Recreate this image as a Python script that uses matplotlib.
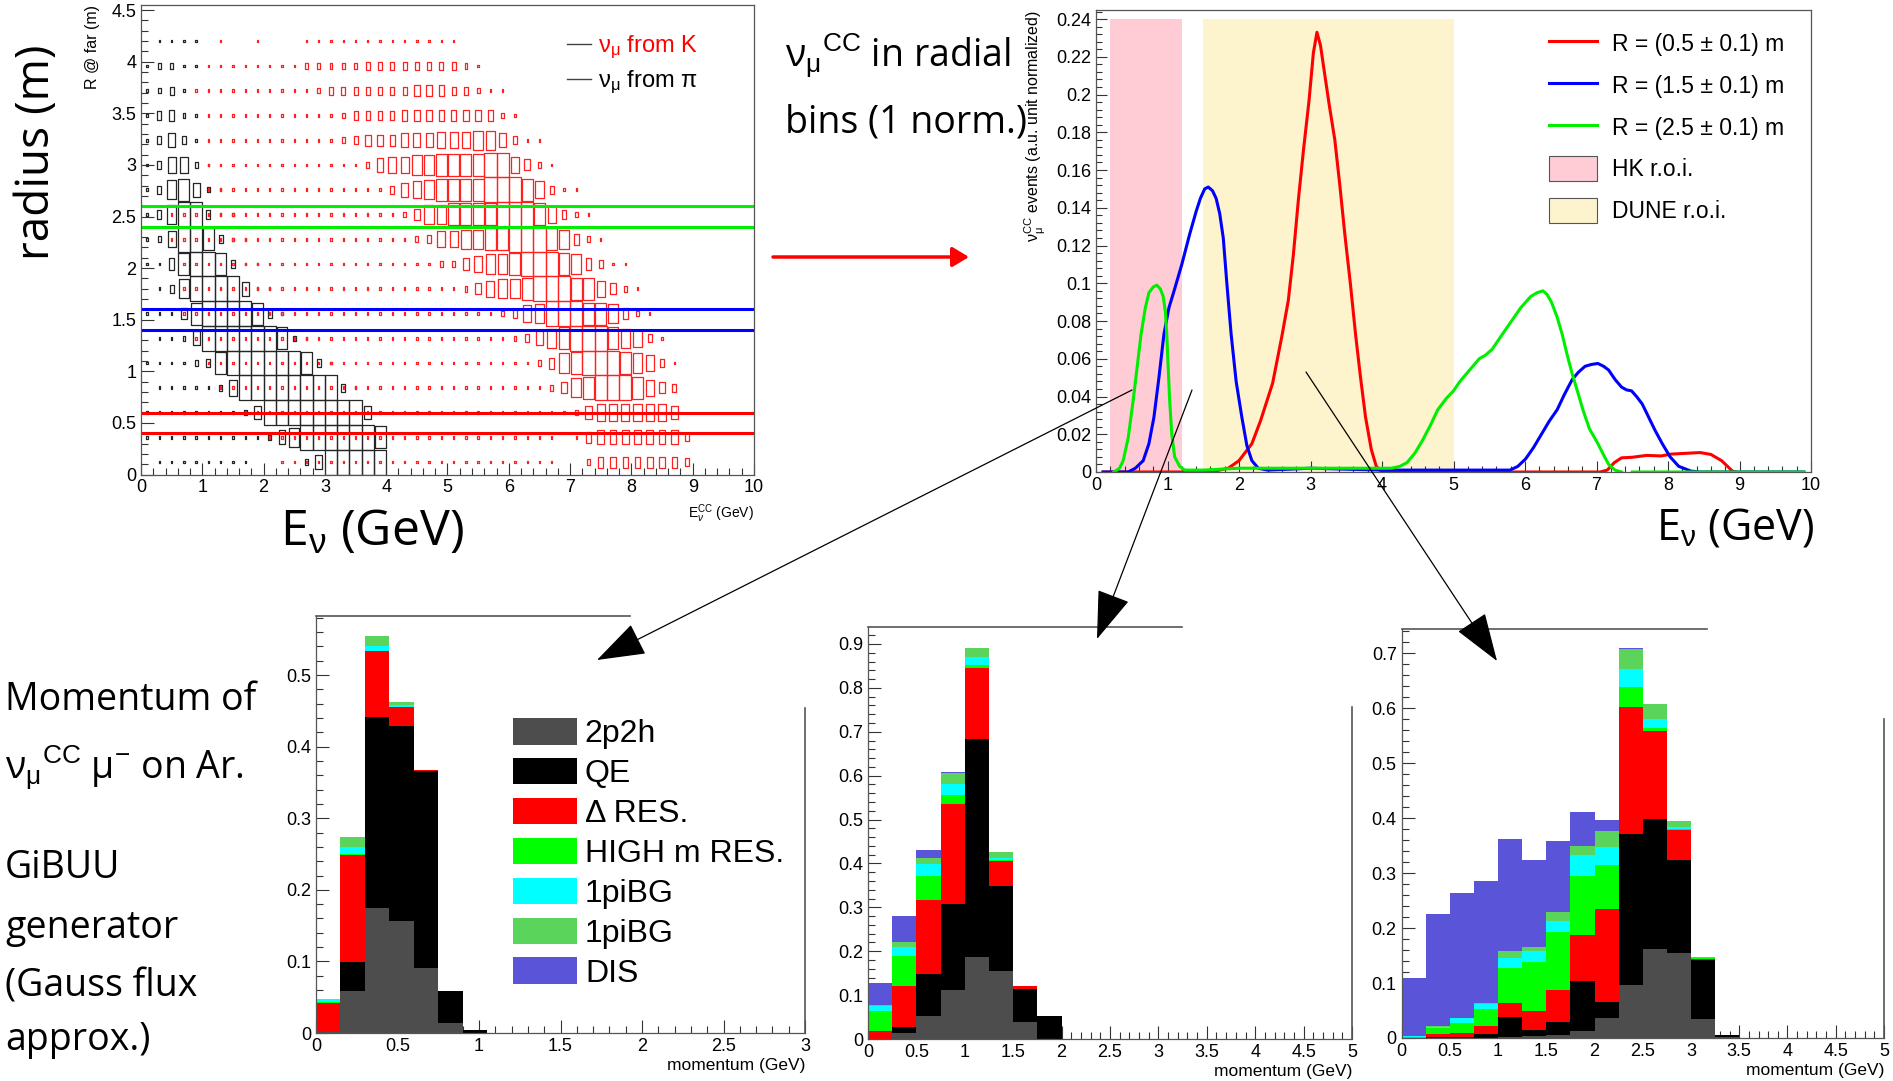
import numpy as np
import matplotlib
matplotlib.use("Agg")
import matplotlib.pyplot as plt
from matplotlib.patches import Rectangle, Patch, FancyArrowPatch
from matplotlib.collections import PatchCollection
from matplotlib.lines import Line2D
from matplotlib.ticker import MultipleLocator, FuncFormatter

plt.rcParams['font.family'] = ['Liberation Sans', 'DejaVu Sans']
plt.rcParams['mathtext.fontset'] = 'custom'
plt.rcParams['mathtext.rm'] = 'Liberation Sans'
plt.rcParams['mathtext.it'] = 'Liberation Sans:italic'
plt.rcParams['mathtext.bf'] = 'Liberation Sans:bold'

W, H = 1893, 1081
BIG = 'Open Sans'

# ---------------- data: top left (R @ far vs E, box sizes 0-9) ----------------
e_first, e_step = 0.1, 0.2      # energy bin centres (GeV)
r_first, r_step = 0.12, 0.24    # radius bin centres (m)
# one string per radius bin (bottom row first), one digit per energy bin
pi_rows = [
    "0" + "1"*8 + "0"*4 + "25" + "9"*5 + "0"*30,
    "1"*10 + "257" + "9"*6 + "8" + "0"*30,
    "1"*8 + "25" + "9"*8 + "5" + "0"*31,
    "0" + "1"*5 + "26" + "9"*8 + "31" + "0"*32,
    "1"*4 + "238" + "9"*6 + "831" + "0"*34,
    "0" + "11" + "25" + "9"*6 + "821" + "0"*36,
    "111" + "48" + "9999" + "831" + "0"*38,
    "0137" + "9999" + "511" + "0"*39,
    "1148" + "99" + "8311" + "0"*40,
    "126" + "99" + "8311" + "0"*41,
    "137" + "99" + "311" + "0"*42,
    "137852" + "1" + "0"*43,
    "136621" + "0"*44,
    "13531" + "0"*45,
    "13421" + "0"*45,
    "1231" + "0"*46,
    "12211" + "0"*45,
    "01111" + "0"*45,
]
k_rows = [
    "0"*11 + "1"*23 + "00" + "2" + "4"*7 + "3" + "0"*5,
    "0"*10 + "1"*24 + "0" + "1" + "4" + "5"*7 + "3" + "0"*5,
    "0"*8 + "1"*27 + "25" + "6"*6 + "5" + "0"*6,
    "0"*6 + "1"*27 + "2478" + "999" + "8643" + "0"*6,
    "0"*5 + "1"*27 + "2478" + "999" + "87631" + "0"*6,
    "0"*4 + "1"*26 + "23578" + "999" + "87631" + "0"*7,
    "0"*3 + "1"*26 + "2367" + "999" + "887421" + "0"*8,
    "0"*3 + "1"*23 + "246778" + "999" + "886421" + "0"*9,
    "0"*3 + "1"*21 + "2246778" + "999" + "874311" + "0"*10,
    "0"*2 + "1"*20 + "23667788" + "999" + "87421" + "0"*12,
    "0"*2 + "1"*19 + "2477888899986321" + "0"*13,
    "0"*5 + "1"*15 + "3567888899986311" + "0"*14,
    "0"*5 + "1"*13 + "2566778888996421" + "0"*16,
    "0"*5 + "1"*11 + "23444555666775311" + "0"*17,
    "0"*5 + "1"*11 + "2" + "3"*4 + "4"*8 + "21" + "0"*19,
    "0"*4 + "1"*10 + "2" + "3"*6 + "3444" + "33211" + "0"*20,
    "0"*5 + "1"*8 + "2"*5 + "3"*8 + "21" + "0"*22,
    "0"*6 + "1" + "00" + "1" + "000" + "1"*13 + "0"*24,
]
sel_r = [0.5, 1.5, 2.5]
sel_half = 0.1
sel_colors = ['#ff0000', '#0000ff', '#00ee00']

# ---------------- data: top right (normalised spectra) ----------------
e_r05 = [0.1, 1.6, 1.85, 2.0, 2.18, 2.3, 2.47, 2.6, 2.69, 2.76, 2.83, 2.9, 2.98, 3.04, 3.09,
         3.14, 3.19, 3.26, 3.34, 3.41, 3.48, 3.56, 3.63, 3.7, 3.77, 3.85, 3.92, 4.0, 7.05,
         7.15, 7.25, 7.35, 7.5, 7.7, 7.9, 8.05, 8.2, 8.45, 8.6, 8.75, 8.9, 8.95]
y_r05 = [0, 0, 0.002, 0.006, 0.015, 0.027, 0.047, 0.072, 0.091, 0.115, 0.144, 0.17, 0.197, 0.222, 0.233,
         0.226, 0.213, 0.195, 0.176, 0.152, 0.126, 0.099, 0.073, 0.05, 0.029, 0.012, 0.003, 0, 0,
         0.001, 0.005, 0.0075, 0.0078, 0.0088, 0.0085, 0.0095, 0.0098, 0.0103, 0.0093, 0.006, 0.0005, 0]
e_r15 = [0.1, 0.45, 0.55, 0.66, 0.74, 0.81, 0.88, 0.95, 1.02, 1.1, 1.2, 1.31, 1.4, 1.46, 1.52, 1.57,
         1.63, 1.68, 1.73, 1.78, 1.83, 1.89, 1.96, 2.04, 2.11, 2.18, 2.27, 2.4, 3.0, 4.0, 5.0, 5.79,
         5.9, 6.01, 6.12, 6.23, 6.34, 6.45, 6.55, 6.66, 6.75, 6.84, 6.93, 7.02, 7.1, 7.17, 7.26,
         7.35, 7.42, 7.49, 7.56, 7.64, 7.73, 7.82, 7.92, 8.03, 8.15, 8.32, 8.45, 9.9]
y_r15 = [0, 0, 0.002, 0.006, 0.015, 0.029, 0.05, 0.073, 0.087, 0.097, 0.11, 0.126, 0.138, 0.145, 0.15, 0.151,
         0.149, 0.145, 0.137, 0.124, 0.1, 0.073, 0.048, 0.029, 0.014, 0.006, 0.002, 0.001, 0.002, 0.001, 0.001, 0.001,
         0.003, 0.007, 0.013, 0.02, 0.027, 0.033, 0.041, 0.049, 0.053, 0.056, 0.057, 0.0575, 0.056, 0.054, 0.049,
         0.045, 0.0435, 0.043, 0.04, 0.036, 0.029, 0.022, 0.015, 0.008, 0.003, 0.0005, 0, 0]
e_r25 = [0.25, 0.33, 0.38, 0.45, 0.52, 0.58, 0.63, 0.69, 0.74, 0.8, 0.85, 0.9, 0.94, 0.97, 0.99, 1.01,
         1.03, 1.06, 1.1, 1.17, 1.24, 1.5, 2.0, 3.0, 3.5, 4.13, 4.25, 4.35, 4.46, 4.57, 4.68, 4.78,
         4.9, 5.0, 5.09, 5.18, 5.27, 5.36, 5.45, 5.54, 5.63, 5.72, 5.83, 5.94, 6.08, 6.17, 6.25, 6.31,
         6.37, 6.45, 6.52, 6.59, 6.66, 6.74, 6.81, 6.9, 7.02, 7.1, 7.17, 7.26, 7.35, 7.42, 7.5, 9.9]
y_r25 = [0, 0.002, 0.006, 0.018, 0.038, 0.057, 0.073, 0.087, 0.095, 0.098, 0.099, 0.097, 0.093, 0.085, 0.073, 0.055,
         0.038, 0.02, 0.008, 0.003, 0.001, 0.001, 0.002, 0.002, 0.002, 0.002, 0.003, 0.005, 0.01, 0.017, 0.025, 0.033,
         0.039, 0.043, 0.048, 0.052, 0.056, 0.06, 0.062, 0.065, 0.07, 0.075, 0.081, 0.087, 0.093, 0.095, 0.096, 0.094,
         0.09, 0.082, 0.073, 0.062, 0.052, 0.042, 0.033, 0.023, 0.015, 0.009, 0.004, 0.001, 0, np.nan, 0, 0]
curve_labels = ['R = (0.5 ± 0.1) m', 'R = (1.5 ± 0.1) m', 'R = (2.5 ± 0.1) m']
curve_colors = ['#ff0000', '#0000ff', '#00ee00']
hk_roi = (0.2, 1.2)
dune_roi = (1.5, 5.0)
roi_top = 0.24

# ---------------- data: bottom (muon momentum, stacked by channel) ----------------
channels = ['2p2h', 'QE', 'Δ RES.', 'HIGH m RES.', '1piBG', '1piBG', 'DIS']
ch_colors = ['#4d4d4d', '#000000', '#ff0000', '#00ff00', '#00ffff', '#5ad45a', '#5954d8']

p1_width = 0.15
p1 = [
    [0.002, 0.058, 0.174, 0.157, 0.091, 0.014, 0.0],
    [0.0, 0.041, 0.267, 0.272, 0.275, 0.045, 0.004],
    [0.040, 0.149, 0.092, 0.026, 0.001, 0, 0],
    [0.002, 0.002, 0.001, 0.001, 0, 0, 0],
    [0.003, 0.010, 0.007, 0.002, 0, 0, 0],
    [0.001, 0.014, 0.014, 0.005, 0, 0, 0],
    [0, 0, 0, 0, 0, 0, 0],
]
p2_width = 0.25
p2 = [
    [0, .014, .052, .112, .187, .156, .038, 0],
    [0, .013, .096, .195, .497, .193, .076, .052],
    [.019, .093, .169, .228, .161, .057, .007, .001],
    [.045, .070, .055, .020, .008, .002, 0, 0],
    [.012, .020, .026, .027, .017, .005, 0, 0],
    [.002, .012, .014, .025, .021, .012, 0, 0],
    [.049, .058, .019, .001, 0, 0, 0, 0],
]
p3_width = 0.25
p3 = [
    [0, 0, 0, 0, .001, .004, .006, .013, .036, .097, .162, .155, .035, .001],
    [0, .001, .002, .008, .038, .011, .024, .090, .029, .275, .237, .169, .106, .005],
    [0, .006, .007, .013, .025, .035, .057, .085, .170, .231, .160, .055, .003, 0],
    [.002, .012, .019, .032, .064, .088, .105, .107, .080, .035, .005, .002, .001, 0],
    [.001, .001, .008, .009, .017, .021, .020, .037, .033, .033, .016, .003, 0, 0],
    [0, .002, .001, .002, .014, .006, .018, .018, .028, .036, .027, .011, .002, 0],
    [.106, .203, .226, .221, .203, .159, .129, .062, .021, .002, 0, 0, 0, 0],
]

# ---------------- figure ----------------
fig = plt.figure(figsize=(W / 100, H / 100), dpi=100)


def px_axes(l, t, r, b):
    return fig.add_axes([l / W, 1 - b / H, (r - l) / W, (b - t) / H])


gfmt = FuncFormatter(lambda v, p: '%g' % round(v, 6))


def root_style(ax, xmaj, xmin, ymaj, ymin, maj_len, min_len, lsize=13):
    ax.xaxis.set_major_locator(MultipleLocator(xmaj))
    ax.xaxis.set_minor_locator(MultipleLocator(xmin))
    ax.yaxis.set_major_locator(MultipleLocator(ymaj))
    ax.yaxis.set_minor_locator(MultipleLocator(ymin))
    ax.xaxis.set_major_formatter(gfmt)
    ax.yaxis.set_major_formatter(gfmt)
    ax.tick_params(which='both', direction='in', color='#333333', width=0.8, labelsize=lsize)
    ax.tick_params(which='major', length=maj_len)
    ax.tick_params(which='minor', length=min_len)
    for s in ax.spines.values():
        s.set_color('#555555')
        s.set_linewidth(0.9)


# top left: box plot
ax1 = px_axes(141, 5, 754, 474.5)
ax1.set_xlim(0, 10)
ax1.set_ylim(0, 4.55)
root_style(ax1, 1, 0.2, 0.5, 0.1, 9, 5)


def draw_boxes(ax, rows, color, lw):
    rects = []
    for j, row in enumerate(rows):
        rc = r_first + j * r_step
        for k, ch in enumerate(row):
            lev = int(ch)
            if lev == 0:
                continue
            f = lev / 9
            ec = e_first + k * e_step
            w, h = e_step * f, r_step * f
            rects.append(Rectangle((ec - w / 2, rc - h / 2), w, h))
    ax.add_collection(PatchCollection(rects, facecolor='none', edgecolor=color, linewidth=lw))


draw_boxes(ax1, pi_rows, '#262626', 0.9)
draw_boxes(ax1, k_rows, '#ff2020', 0.9)
for r, c in zip(sel_r, sel_colors):
    ax1.axhline(r - sel_half, color=c, lw=2.2)
    ax1.axhline(r + sel_half, color=c, lw=2.2)
ax1.set_ylabel('R @ far (m)', loc='top', fontsize=11.5, labelpad=8)
ax1.set_xlabel(r'E$_{\nu}^{\mathrm{CC}}$ (GeV)', loc='right', fontsize=10, labelpad=4)
leg1 = ax1.legend([Line2D([], [], color='#444444', lw=1), Line2D([], [], color='#444444', lw=1)],
                  [r'ν$_{\mathrm{μ}}$ from K', r'ν$_{\mathrm{μ}}$ from π'],
                  loc='upper left', bbox_to_anchor=(567 / W, 1 - 34 / H),
                  bbox_transform=fig.transFigure, frameon=False, fontsize=17,
                  handlelength=1.0, handletextpad=0.3, labelspacing=0.3,
                  borderpad=0, borderaxespad=0)
leg1.get_texts()[0].set_color('#ff0000')

# top right: spectra
ax2 = px_axes(1096, 10, 1811, 472)
ax2.set_xlim(0, 10)
ax2.set_ylim(0, 0.2448)
root_style(ax2, 1, 0.2, 0.02, 0.004, 8, 4.5)
ax2.fill_between(hk_roi, 0, roi_top, color='#ffccd5', lw=0)
ax2.fill_between(dune_roi, 0, roi_top, color='#fdf3cd', lw=0)
lines = []
for ex, ey, c in zip([e_r05, e_r15, e_r25], [y_r05, y_r15, y_r25], curve_colors):
    ln, = ax2.plot(ex, ey, color=c, lw=2.2)
    lines.append(ln)
ax2.set_ylabel(r'ν$_{\mathrm{μ}}^{\mathrm{CC}}$ events (a.u. unit normalized)', loc='top',
               fontsize=11.5, labelpad=6)
leg2 = ax2.legend(lines + [Patch(facecolor='#ffccd5', edgecolor='#555555', lw=0.8),
                           Patch(facecolor='#fdf3cd', edgecolor='#555555', lw=0.8)],
                  curve_labels + ['HK r.o.i.', 'DUNE r.o.i.'],
                  loc='upper left', bbox_to_anchor=(1549 / W, 1 - 31 / H),
                  bbox_transform=fig.transFigure, frameon=False, fontsize=16.5,
                  handlelength=2.1, handleheight=1.31, handletextpad=0.65,
                  labelspacing=0.72, borderpad=0, borderaxespad=0)

# bottom: stacked momentum histograms
hist_specs = [
    ((316, 615.7, 805, 1033), p1, p1_width, 3, 0.583, 0.642, 0.78),
    ((868, 627, 1352, 1039), p2, p2_width, 5, 0.9386, 0.649, 0.807),
    ((1401.5, 629, 1884, 1038), p3, p3_width, 5, 0.744, 0.634, 0.78),
]
hist_axes = []
for box, comps, bw, xmax, ymax, top_frac, right_frac in hist_specs:
    ax = px_axes(*box)
    ax.set_xlim(0, xmax)
    ax.set_ylim(0, ymax)
    root_style(ax, 0.5, 0.1, 0.1, 0.02, 9.5, 5)
    ax.set_axisbelow(True)
    left = np.arange(len(comps[0])) * bw
    bottom = np.zeros(len(comps[0]))
    bars = []
    for vals, c in zip(comps, ch_colors):
        b = ax.bar(left, vals, width=bw, bottom=bottom, align='edge', color=c, lw=0)
        bars.append(b)
        bottom = bottom + np.array(vals)
    ax.spines['top'].set_visible(False)
    ax.spines['right'].set_visible(False)
    ax.plot([0, top_frac], [1, 1], transform=ax.transAxes, color='#555555', lw=1.2, clip_on=False)
    ax.plot([1, 1], [0, right_frac], transform=ax.transAxes, color='#555555', lw=1.2, clip_on=False)
    ax.set_xlabel('momentum (GeV)', loc='right', fontsize=12.5, labelpad=2)
    hist_axes.append((ax, bars))

ax_h1, bars_h1 = hist_axes[0]
ax_h1.legend([b[0] for b in bars_h1], channels, loc='upper left',
             bbox_to_anchor=(513 / W, 1 - 718 / H), bbox_transform=fig.transFigure,
             frameon=False, fontsize=23, handlelength=2.0, handleheight=0.9,
             handletextpad=0.25, labelspacing=0.27, borderpad=0, borderaxespad=0)

# overlay: big annotations and arrows (pixel coordinates)
ov = fig.add_axes([0, 0, 1, 1], zorder=10)
ov.set_xlim(0, W)
ov.set_ylim(H, 0)
ov.axis('off')
ov.patch.set_alpha(0)

ov.text(37, 152, 'radius (m)', family=BIG, fontsize=33, rotation=90, ha='center', va='center')
ov.text(280, 533, r'E$_{\mathrm{ν}}$ (GeV)', family=BIG, fontsize=36, ha='left', va='center')
ov.text(785, 55, r'ν$_{\mathrm{μ}}$$^{\mathrm{CC}}$ in radial', family=BIG, fontsize=27, ha='left', va='center')
ov.text(785, 123, 'bins (1 norm.)', family=BIG, fontsize=27, ha='left', va='center')
ov.text(1656, 528, r'E$_{\mathrm{ν}}$ (GeV)', family=BIG, fontsize=31, ha='left', va='center')
for y, s in zip([700, 768, 868, 928, 986, 1040],
                ['Momentum of', r'ν$_{\mathrm{μ}}$$^{\mathrm{CC}}$ μ$^{-}$ on Ar.', 'GiBUU',
                 'generator', '(Gauss flux', 'approx.)']):
    ov.text(5, y, s, family=BIG, fontsize=27, ha='left', va='center')

ov.add_patch(FancyArrowPatch((773, 257), (969, 257), arrowstyle='-|>,head_length=0.5,head_width=0.3',
                             mutation_scale=20, color='#ff0000', lw=2.5, shrinkA=0, shrinkB=0))
for start, tip in [((1132, 390), (597, 660)), ((1192, 390), (1097, 639)), ((1306, 372), (1497, 661))]:
    ov.add_patch(FancyArrowPatch(start, tip, arrowstyle='-|>,head_length=2.6,head_width=0.9',
                                 mutation_scale=12, color='black', lw=0.9, shrinkA=0, shrinkB=0))

fig.savefig('out.png', dpi=100)
